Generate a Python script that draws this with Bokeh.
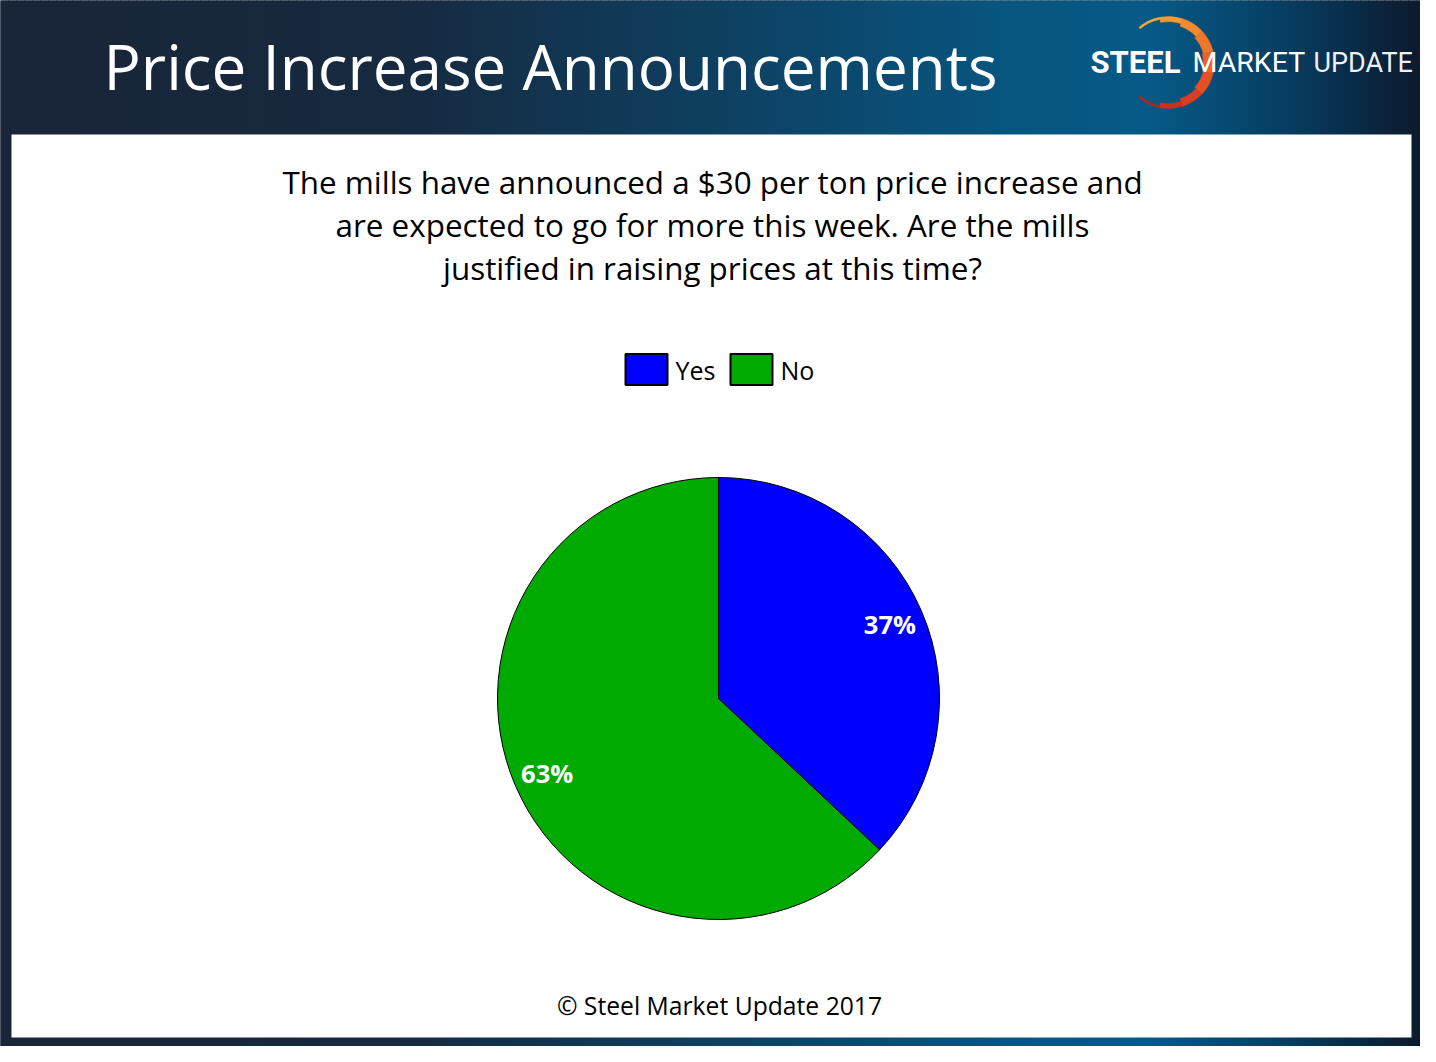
import numpy as np
from bokeh.plotting import figure
from bokeh.models import Range1d, ColumnDataSource
from bokeh.core.properties import value
from bokeh.embed import file_html
from bokeh.resources import INLINE

# ---- data ----
categories = ["Yes", "No"]
shares = [37, 63]
colors = ["#0000FF", "#00AA00"]
title_text = "Price Increase Announcements"
question_lines = [
    "The mills have announced a $30 per ton price increase and",
    "are expected to go for more this week. Are the mills",
    "justified in raising prices at this time?",
]
footer_text = "\u00a9 Steel Market Update 2017"

W, H = 1420, 1046
# data coords: x = reference pixel x, y = 1062 - reference pixel y
p = figure(width=W, height=H, output_backend="svg", toolbar_location=None,
           x_range=Range1d(0, W), y_range=Range1d(1062 - H, 1062),
           min_border=0, outline_line_color=None, background_fill_color="#1a2538",
           border_fill_color="#1a2538")
p.axis.visible = False
p.grid.visible = False

def Y(v):
    return 1062 - v

# ---- background gradient (styling) ----
stops_x = [0, 400, 700, 1000, 1150, 1290, 1420]
stops_c = [(0x1a, 0x25, 0x38), (0x17, 0x2a, 0x40), (0x0f, 0x3f, 0x5f),
           (0x09, 0x55, 0x7f), (0x07, 0x5a, 0x88), (0x08, 0x3d, 0x60),
           (0x0c, 0x1a, 0x2c)]
xs = np.arange(0, 1424, 8) + 4
cols = []
for xv in xs:
    r = np.interp(xv, stops_x, [c[0] for c in stops_c])
    g = np.interp(xv, stops_x, [c[1] for c in stops_c])
    b = np.interp(xv, stops_x, [c[2] for c in stops_c])
    cols.append("#%02x%02x%02x" % (int(r), int(g), int(b)))
p.rect(x=xs, y=Y(531), width=9, height=1070, fill_color=cols, line_color=None)

# white panel
p.quad(left=11, right=1411, top=Y(134), bottom=Y(1037), fill_color="white", line_color=None)

# ---- title ----
p.text(x=[103], y=[Y(65)], text=[title_text], text_color="white",
       text_font=value("Open Sans"), text_font_size="62px",
       text_align="left", text_baseline="middle")

# ---- logo ----
lx = -12
arc_cols = ["#f7aa36", "#f69a32", "#f4882e", "#f1752b", "#ec6228",
            "#e44f24", "#d93e21", "#cc301e", "#bd231b"]
n = len(arc_cols)
a0, a1 = np.deg2rad(130), np.deg2rad(-130)
edges = np.linspace(a0, a1, n + 1)
inner = [44, 41, 38, 36, 35, 36, 38, 41, 44]
p.annular_wedge(x=[1180 + lx] * n, y=[Y(62)] * n, inner_radius=inner, outer_radius=46,
                inner_radius_units="screen", outer_radius_units="screen",
                start_angle=edges[1:], end_angle=edges[:-1],
                fill_color=arc_cols, line_color=arc_cols, line_width=0.5)
p.text(x=[1102 + lx], y=[Y(62)], text=["STEEL"], text_color="white",
       text_font=value("Roboto"), text_font_style="bold", text_font_size="31px",
       text_align="left", text_baseline="middle")
p.text(x=[1204 + lx], y=[Y(62)], text=["MARKET"], text_color="white",
       text_font=value("Roboto"), text_font_size="28.5px",
       text_align="left", text_baseline="middle")
p.text(x=[1325 + lx], y=[Y(62)], text=["UPDATE"], text_color="white",
       text_font=value("Roboto"), text_font_size="27px",
       text_align="left", text_baseline="middle", text_alpha=0.95)

# ---- question ----
for i, line in enumerate(question_lines):
    p.text(x=[712], y=[Y(181 + 43 * i)], text=[line], text_color="black",
           text_font=value("Open Sans"), text_font_size="31.4px",
           text_align="center", text_baseline="middle")

# ---- legend ----
leg_x = [646, 751]
p.rect(x=leg_x, y=[Y(369)] * 2, width=42, height=31, fill_color=colors,
       line_color="black", line_width=2)
p.text(x=[x + 29 for x in leg_x], y=[Y(369)] * 2, text=categories,
       text_font=value("Open Sans"), text_font_size="25px",
       text_align="left", text_baseline="middle", text_color="black")

# ---- pie ----
cx, cy, R = 718, Y(698), 221
fr = np.array(shares, dtype=float) / sum(shares)
cum = np.concatenate([[0], np.cumsum(fr)])
start = np.pi / 2 - 2 * np.pi * cum[1:]
end = np.pi / 2 - 2 * np.pi * cum[:-1]
src = ColumnDataSource(dict(cat=categories, start=start, end=end, color=colors))
p.wedge(x=cx, y=cy, radius=R, radius_units="screen", start_angle="start",
        end_angle="end", fill_color="color", line_color="black", line_width=1,
        source=src)
mid = (start + end) / 2
lr = 0.845 * R
labels = ["%d%%" % s for s in shares]
p.text(x=cx + lr * np.cos(mid), y=cy + lr * np.sin(mid), text=labels,
       text_color="white", text_font=value("Open Sans"), text_font_style="bold",
       text_font_size="25.5px", text_align="center", text_baseline="middle")

# ---- footer ----
p.text(x=[719], y=[Y(1005)], text=[footer_text], text_color="black",
       text_font=value("Open Sans"), text_font_size="24.7px",
       text_align="center", text_baseline="middle")

open("out.html", "w").write(file_html(p, INLINE))
